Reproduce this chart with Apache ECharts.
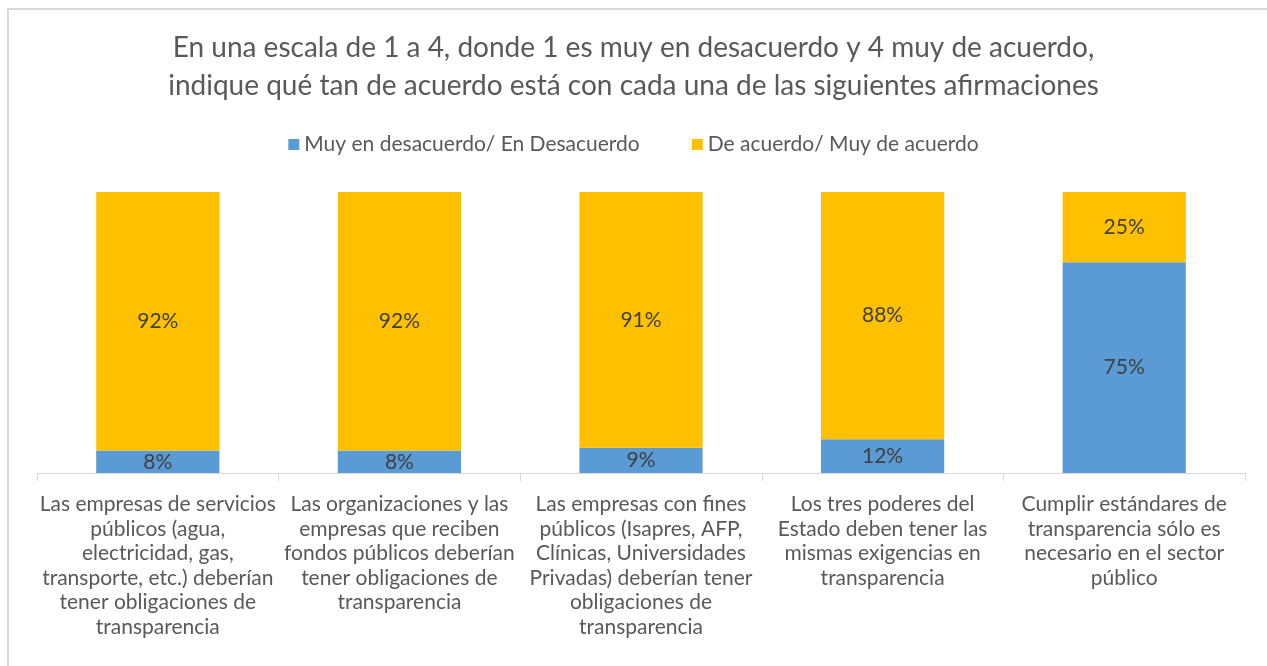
<!DOCTYPE html>
<html>
<head>
<meta charset="utf-8">
<script src="https://cdn.jsdelivr.net/npm/echarts@6/dist/echarts.min.js"></script>
<style>
  html, body { margin: 0; padding: 0; background: #fff; }
  #main { width: 1267px; height: 666px; }
</style>
</head>
<body>
<div id="main"></div>
<script>
var categories = [
  'Las empresas de servicios\npúblicos (agua,\nelectricidad, gas,\ntransporte, etc.) deberían\ntener obligaciones de\ntransparencia',
  'Las organizaciones y las\nempresas que reciben\nfondos públicos deberían\ntener obligaciones de\ntransparencia',
  'Las empresas con fines\npúblicos (Isapres, AFP,\nClínicas, Universidades\nPrivadas) deberían tener\nobligaciones de\ntransparencia',
  'Los tres poderes del\nEstado deben tener las\nmismas exigencias en\ntransparencia',
  'Cumplir estándares de\ntransparencia sólo es\nnecesario en el sector\npúblico'
];
var desacuerdo = [8, 8, 9, 12, 75];
var deAcuerdo = [92, 92, 91, 88, 25];

var font = 'Lato';
var chart = echarts.init(document.getElementById('main'));

var option = {
  backgroundColor: '#ffffff',
  textStyle: { fontFamily: font },
  graphic: [{
    type: 'rect',
    shape: { x: 8, y: 9, width: 1300, height: 700 },
    style: { fill: 'none', stroke: '#d9d9d9', lineWidth: 2 },
    silent: true
  }],
  title: {
    text: 'En una escala de 1 a 4, donde 1 es muy en desacuerdo y 4 muy de acuerdo,\nindique qué tan de acuerdo está con cada una de las siguientes afirmaciones',
    left: 'center',
    top: 24,
    textStyle: {
      fontFamily: font,
      fontSize: 28,
      fontWeight: 'normal',
      color: '#595959',
      lineHeight: 38,
      align: 'center'
    }
  },
  legend: {
    top: 129,
    left: 'center',
    itemWidth: 11,
    itemHeight: 11,
    itemGap: 52,
    icon: 'rect',
    textStyle: { fontFamily: font, fontSize: 21, color: '#595959' },
    data: ['Muy en desacuerdo/ En Desacuerdo', 'De acuerdo/ Muy de acuerdo']
  },
  grid: { left: 37, right: 22, top: 192, bottom: 193 },
  xAxis: {
    type: 'category',
    data: categories,
    axisLine: { lineStyle: { color: '#d9d9d9', width: 1 } },
    axisTick: { show: true, length: 8, lineStyle: { color: '#d9d9d9' } },
    axisLabel: {
      interval: 0,
      margin: 19,
      fontFamily: font,
      fontSize: 21,
      color: '#595959',
      lineHeight: 24.5,
      align: 'center'
    }
  },
  yAxis: {
    type: 'value',
    min: 0,
    max: 100,
    show: false,
    splitLine: { show: false }
  },
  series: [{
    name: 'Muy en desacuerdo/ En Desacuerdo',
    type: 'bar',
    stack: 'total',
    barWidth: '51%',
    itemStyle: { color: '#5b9bd5' },
    label: {
      show: true,
      position: 'inside',
      formatter: '{c}%',
      fontFamily: font,
      fontSize: 21,
      color: '#404040'
    },
    data: desacuerdo
  }, {
    name: 'De acuerdo/ Muy de acuerdo',
    type: 'bar',
    stack: 'total',
    barWidth: '51%',
    itemStyle: { color: '#ffc000' },
    label: {
      show: true,
      position: 'inside',
      formatter: '{c}%',
      fontFamily: font,
      fontSize: 21,
      color: '#404040'
    },
    data: deAcuerdo
  }]
};

chart.setOption(option);
</script>
</body>
</html>
